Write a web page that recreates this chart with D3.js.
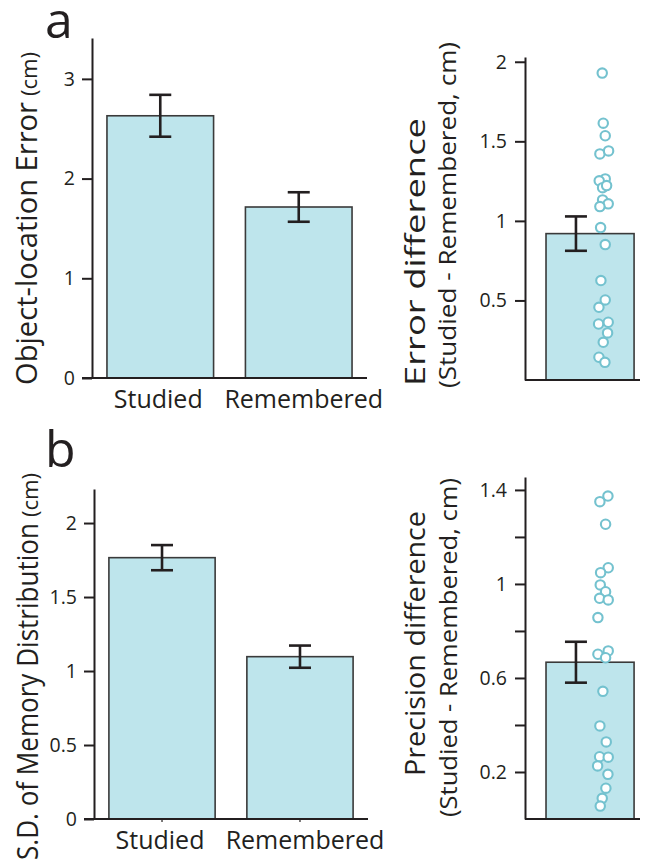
<!DOCTYPE html>
<html><head><meta charset="utf-8">
<script src="https://cdn.jsdelivr.net/npm/d3@7"></script>
<style>
html,body{margin:0;padding:0;background:#fff;}
svg{display:block;}
text{font-family:"Open Sans",sans-serif;fill:#231f20;}
</style>
</head><body>
<script>
// ---------------- data ----------------
const categories = ["Studied", "Remembered"];
const errorMeans = [2.63, 1.715];
const errorSEM = [0.21, 0.148];
const sdMeans = [1.766, 1.097];
const sdSEM = [0.085, 0.075];

const errDiffMean = 0.92;
const errDiffSEM = 0.108;
const errDiffPoints = [1.929, 1.614, 1.535, 1.421, 1.440, 1.264, 1.252, 1.209, 1.222, 1.132, 1.107, 1.090,
  0.958, 0.851, 0.625, 0.503, 0.457, 0.352, 0.363, 0.296, 0.237, 0.143, 0.111];
const errDiffJitter = [-0.17, 0, 0.33, -0.56, 0.89, 0.33, -0.67, -0.11, 0.56, -0.11, 0.83, -0.56,
  -0.44, 0.33, -0.39, 0.33, -0.72, -0.78, 0.83, 0.72, 0, -0.72, 0.28];

const precDiffMean = 0.667;
const precDiffSEM = 0.087;
const precDiffPoints = [1.374, 1.350, 1.254, 1.069, 1.048, 0.996, 0.967, 0.939, 0.932, 0.857, 0.715, 0.701,
  0.686, 0.543, 0.396, 0.328, 0.265, 0.263, 0.226, 0.190, 0.131, 0.088, 0.055];
const precDiffJitter = [0.78, -0.56, 0.39, 0.83, -0.44, -0.5, 0.39, -0.61, 0.83, -0.89, 0.83, -0.89,
  0.39, -0.06, -0.56, 0.5, -0.61, 0.83, -0.94, 0.78, 0.44, -0.17, -0.5];

const ticksA = [0, 1, 2, 3];
const ticksB = [0, 0.5, 1, 1.5, 2];
const ticksAR = [0.5, 1, 1.5, 2];
const ticksBR = [0.2, 0.4, 0.6, 0.8, 1, 1.2, 1.4];
const labelsBR = ["0.2", "", "0.6", "", "1", "", "1.4"];

// ---------------- style ----------------
const INK = "#231f20";
const BAR_FILL = "#bee5ec";
const BAR_STROKE = "#3a3a3a";
const DOT = "#74c2cf";

const svg = d3.select("body").append("svg").attr("width", 646).attr("height", 862);

function styleAxis(g) {
  g.selectAll(".domain").attr("stroke", INK).attr("stroke-width", 2);
  g.selectAll(".tick line").attr("stroke", INK).attr("stroke-width", 2);
  g.selectAll(".tick text").style("font-family", "Open Sans, sans-serif").attr("font-size", 19.5).attr("fill", INK);
}

function leftPanel(opt) {
  const y = d3.scaleLinear().domain([0, opt.yMax]).range([opt.y0, opt.yTop]);
  const x = d3.scaleBand().domain(categories).range([opt.x0, opt.x1]).paddingInner(0.23).paddingOuter(0.108);
  const g = svg.append("g");
  // bars
  g.selectAll("rect.bar").data(categories).join("rect")
    .attr("x", d => x(d)).attr("width", x.bandwidth())
    .attr("y", (d, i) => y(opt.means[i])).attr("height", (d, i) => y(0) - y(opt.means[i]))
    .attr("fill", BAR_FILL).attr("stroke", BAR_STROKE).attr("stroke-width", 1.6);
  // error bars
  categories.forEach((c, i) => {
    const cx = x(c) + x.bandwidth() / 2;
    const hi = y(opt.means[i] + opt.sem[i]), lo = y(opt.means[i] - opt.sem[i]);
    g.append("line").attr("x1", cx).attr("x2", cx).attr("y1", hi).attr("y2", lo).attr("stroke", INK).attr("stroke-width", 2.6);
    [hi, lo].forEach(v => g.append("line").attr("x1", cx - 11).attr("x2", cx + 11).attr("y1", v).attr("y2", v)
      .attr("stroke", INK).attr("stroke-width", 2.6));
  });
  // y axis
  const ya = g.append("g").attr("transform", `translate(${opt.x0},0)`)
    .call(d3.axisLeft(y).tickValues(opt.ticks).tickFormat(d => String(d)).tickSize(10).tickSizeOuter(0).tickPadding(7));
  styleAxis(ya);
  // x axis baseline
  const xa = g.append("g").attr("transform", `translate(0,${opt.y0})`)
    .call(d3.axisBottom(x).tickSize(opt.xTick).tickSizeOuter(0).tickFormat(""));
  xa.select(".domain").remove();
  styleAxis(xa);
  xa.selectAll(".tick line").attr("stroke-width", 1.2);
  g.append("line").attr("x1", opt.x0 - 10).attr("x2", opt.x1).attr("y1", opt.y0).attr("y2", opt.y0)
    .attr("stroke", INK).attr("stroke-width", 2);
  // category labels
  g.selectAll("text.cat").data(categories).join("text").attr("class", "cat")
    .attr("x", d => x(d) + x.bandwidth() / 2 + (d === "Remembered" ? 5 : -2))
    .attr("y", opt.y0 + 30).attr("text-anchor", "middle").attr("font-size", 25).text(d => d);
  // y title (main part + smaller unit)
  g.append("text")
    .attr("transform", `translate(${opt.titleX},${opt.titleStart}) rotate(-90)`)
    .attr("font-size", 29).attr("textLength", opt.titleLen).attr("lengthAdjust", "spacingAndGlyphs")
    .text(opt.title);
  g.append("text")
    .attr("transform", `translate(${opt.titleX},${opt.titleStart - opt.titleLen - 6}) rotate(-90)`)
    .attr("font-size", 22).attr("textLength", 44).attr("lengthAdjust", "spacingAndGlyphs")
    .text("(cm)");
  // panel letter
  g.append("text").attr("x", opt.letterX).attr("y", opt.letterY).attr("font-size", 50).text(opt.letter);
}

function rightPanel(opt) {
  const y = d3.scaleLinear().domain([0, opt.yMax]).range([opt.y0, opt.yTop]);
  const x = d3.scaleBand().domain(["diff"]).range([opt.x0, opt.x1]).paddingInner(0).paddingOuter(0.153).align(0.78);
  const dx = d3.scaleLinear().domain([-1, 1]).range([x("diff") + 0.65 * x.bandwidth() - 6, x("diff") + 0.65 * x.bandwidth() + 6]);
  const g = svg.append("g");
  g.append("rect").attr("x", x("diff")).attr("width", x.bandwidth())
    .attr("y", y(opt.mean)).attr("height", y(0) - y(opt.mean))
    .attr("fill", BAR_FILL).attr("stroke", BAR_STROKE).attr("stroke-width", 1.6);
  // dots
  g.selectAll("circle").data(opt.points).join("circle")
    .attr("cx", (d, i) => dx(opt.jitter[i])).attr("cy", d => y(d)).attr("r", 4.7)
    .attr("fill", "#fff").attr("stroke", DOT).attr("stroke-width", 2.1);
  // error bar
  const cx = x("diff") + 0.34 * x.bandwidth();
  const hi = y(opt.mean + opt.sem), lo = y(opt.mean - opt.sem);
  g.append("line").attr("x1", cx).attr("x2", cx).attr("y1", hi).attr("y2", lo).attr("stroke", INK).attr("stroke-width", 2.6);
  [hi, lo].forEach(v => g.append("line").attr("x1", cx - 11).attr("x2", cx + 11).attr("y1", v).attr("y2", v)
    .attr("stroke", INK).attr("stroke-width", 2.6));
  // axes
  const ya = g.append("g").attr("transform", `translate(${opt.x0},0)`)
    .call(d3.axisLeft(y).tickValues(opt.ticks).tickFormat((d, i) => opt.labels[i]).tickSize(10).tickSizeOuter(0).tickPadding(8));
  styleAxis(ya);
  g.append("line").attr("x1", opt.x0).attr("x2", opt.x1).attr("y1", opt.y0).attr("y2", opt.y0)
    .attr("stroke", INK).attr("stroke-width", 2);
  // titles
  g.append("text").attr("transform", `translate(${opt.t1X},${opt.t1Start}) rotate(-90)`)
    .attr("font-size", 28).attr("textLength", opt.t1Len).attr("lengthAdjust", "spacingAndGlyphs").text(opt.title1);
  g.append("text").attr("transform", `translate(${opt.t2X},${opt.t2Start}) rotate(-90)`)
    .attr("font-size", 24).attr("textLength", opt.t2Len).attr("lengthAdjust", "spacingAndGlyphs").text(opt.title2);
}

leftPanel({
  means: errorMeans, sem: errorSEM, ticks: ticksA, yMax: 3.41,
  y0: 378, yTop: 38, x0: 92, x1: 367, xTick: 0,
  title: "Object-location Error", titleX: 37, titleStart: 385, titleLen: 283,
  letter: "a", letterX: 45, letterY: 38
});
leftPanel({
  means: sdMeans, sem: sdSEM, ticks: ticksB, yMax: 2.23,
  y0: 819, yTop: 489, x0: 94, x1: 368, xTick: 3,
  title: "S.D. of Memory Distribution", titleX: 38, titleStart: 860, titleLen: 337,
  letter: "b", letterX: 45, letterY: 467
});
rightPanel({
  mean: errDiffMean, sem: errDiffSEM, points: errDiffPoints, jitter: errDiffJitter,
  ticks: ticksAR, labels: ticksAR.map(String), yMax: 2.03,
  y0: 380, yTop: 57, x0: 525, x1: 640,
  title1: "Error difference", t1X: 425, t1Start: 386, t1Len: 268,
  title2: "(Studied - Remembered, cm)", t2X: 456, t2Start: 388, t2Len: 346
});
rightPanel({
  mean: precDiffMean, sem: precDiffSEM, points: precDiffPoints, jitter: precDiffJitter,
  ticks: ticksBR, labels: labelsBR, yMax: 1.455,
  y0: 819, yTop: 477, x0: 525, x1: 640,
  title1: "Precision difference", t1X: 425, t1Start: 776, t1Len: 265,
  title2: "(Studied - Remembered, cm)", t2X: 457, t2Start: 817, t2Len: 339
});
</script>
</body></html>
